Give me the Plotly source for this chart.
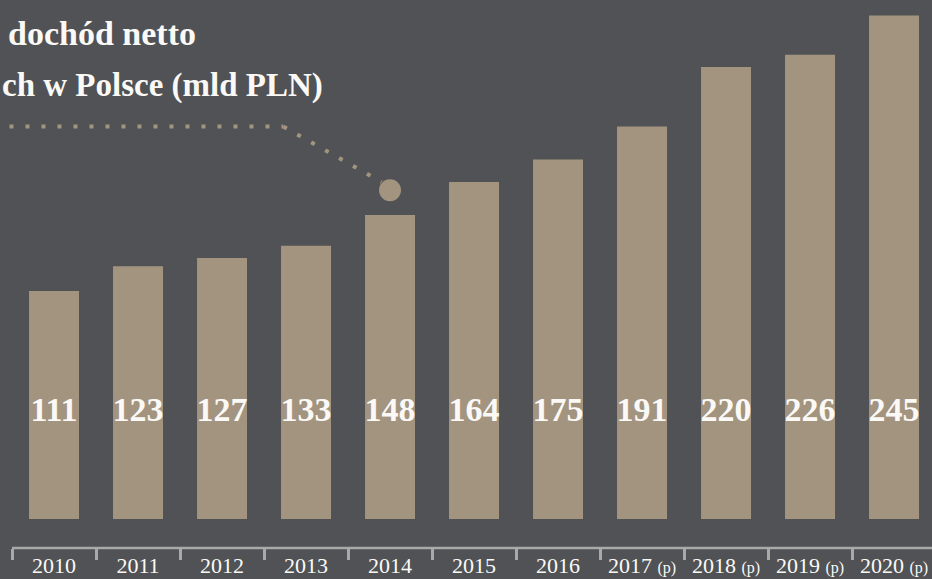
import plotly.graph_objects as go

# ---- data ----
years = ["2010", "2011", "2012", "2013", "2014", "2015", "2016", "2017", "2018", "2019", "2020"]
values = [111, 123, 127, 133, 148, 164, 175, 191, 220, 226, 245]
tick_labels = ["2010", "2011", "2012", "2013", "2014", "2015", "2016",
               "2017 <span style='font-size:16px'>(p)</span>",
               "2018 <span style='font-size:16px'>(p)</span>",
               "2019 <span style='font-size:16px'>(p)</span>",
               "2020 <span style='font-size:16px'>(p)</span>"]
title_line1 = "dochód netto"
title_line2 = "ch w Polsce (mld PLN)"
highlight_year = "2014"

# ---- styles ----
BG = "#505255"
BAR = "#a39480"
WHITE = "#fbf9f6"
AXIS = "#a9a9a9"
SERIF = "Liberation Serif, Times New Roman, serif"

LABEL_LEVEL = 52        # vertical level of the value labels (axis units)
LEADER_Y = 191          # level of the horizontal dotted leader
DOT_Y = 160             # level of the highlight dot

fig = go.Figure()

fig.add_trace(go.Bar(
    x=years, y=values,
    marker=dict(color=BAR, line=dict(width=0)),
    hoverinfo="skip",
))

fig.add_trace(go.Scatter(
    x=years, y=[LABEL_LEVEL] * len(years),
    mode="text",
    text=[f"<b>{v}</b>" for v in values],
    textposition="middle center",
    textfont=dict(family=SERIF, size=34, color=WHITE),
    hoverinfo="skip",
))

hi = years.index(highlight_year)

# highlight dot
fig.add_trace(go.Scatter(
    x=[highlight_year], y=[DOT_Y],
    mode="markers",
    marker=dict(size=22, color=BAR, line=dict(width=0)),
    hoverinfo="skip",
))

shapes = [
    # axis line
    dict(type="line", xref="x", yref="paper", x0=-0.5, x1=10.452, y0=0, y1=0,
         line=dict(color=AXIS, width=2.5), layer="above"),
    # dotted leader: horizontal part
    dict(type="line", xref="x", yref="y", x0=-0.53, x1=hi - 1.27, y0=LEADER_Y, y1=LEADER_Y,
         line=dict(color=BAR, width=4, dash="4px,12px")),
    # dotted leader: diagonal part
    dict(type="line", xref="x", yref="y", x0=hi - 1.27, x1=hi - 0.1, y0=LEADER_Y, y1=DOT_Y + 4,
         line=dict(color=BAR, width=4, dash="4px,12px")),
]

annotations = [
    dict(text=f"<b>{title_line1}</b>", xref="paper", yref="paper",
         x=198 / 932, y=(548 - 33) / 548, xanchor="right", yanchor="middle",
         showarrow=False, font=dict(family=SERIF, size=34, color=WHITE)),
    dict(text=f"<b>{title_line2}</b>", xref="paper", yref="paper",
         x=325 / 932, y=(548 - 86) / 548, xanchor="right", yanchor="middle",
         showarrow=False, font=dict(family=SERIF, size=33, color=WHITE)),
]

fig.update_layout(
    width=932, height=579,
    margin=dict(l=0, r=0, t=0, b=31, pad=0),
    paper_bgcolor=BG, plot_bgcolor=BG,
    showlegend=False,
    bargap=0.405,
    hovermode=False,
    shapes=shapes,
    annotations=annotations,
    xaxis=dict(
        type="category",
        range=[-0.643, 10.452],
        tickmode="array", tickvals=years, ticktext=tick_labels,
        tickson="boundaries",
        ticks="outside", ticklen=11, tickwidth=2.5, tickcolor=AXIS,
        tickfont=dict(family=SERIF, size=22, color=WHITE),
        ticklabelstandoff=2,
        showline=False, showgrid=False, zeroline=False,
        fixedrange=True,
    ),
    yaxis=dict(
        range=[-14.1, 252.6],
        visible=False, showgrid=False, zeroline=False,
        fixedrange=True,
    ),
)

fig.write_html("out.html", config={"displayModeBar": False})

# remove the default page margin so the figure sits at the window's corner
with open("out.html", "r", encoding="utf-8") as f:
    html = f.read()
html = html.replace("<head>", "<head><style>html,body{margin:0;padding:0;overflow:hidden;background:%s}</style>" % BG, 1)
with open("out.html", "w", encoding="utf-8") as f:
    f.write(html)
